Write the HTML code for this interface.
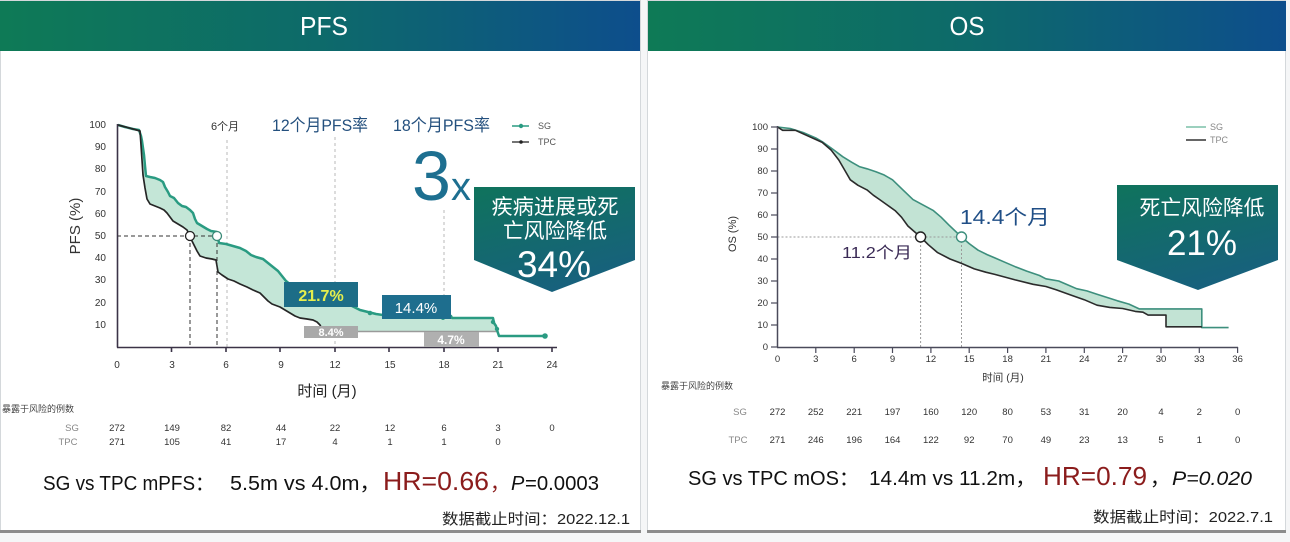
<!DOCTYPE html>
<html><head><meta charset="utf-8"><style>
html,body{margin:0;padding:0;background:#f3f5f6;}
svg{display:block;}
text{font-family:"Liberation Sans","Noto Sans CJK SC",sans-serif;}
</style></head><body>
<svg width="1290" height="542" viewBox="0 0 1290 542" xmlns="http://www.w3.org/2000/svg">
<defs>
<linearGradient id="hd" x1="0" y1="0" x2="1" y2="0">
<stop offset="0" stop-color="#0e7a56"/><stop offset="0.5" stop-color="#0d6a6a"/><stop offset="1" stop-color="#0d4e8c"/>
</linearGradient>
<linearGradient id="bx" x1="0" y1="0" x2="0.4" y2="1">
<stop offset="0" stop-color="#0f735c"/><stop offset="1" stop-color="#17617c"/>
</linearGradient>
</defs>
<rect x="0" y="0" width="1290" height="542" fill="#f5f6f7"/>
<!-- panels -->
<rect x="0.5" y="0.5" width="640" height="532" fill="#ffffff" stroke="#d4d8db"/>
<rect x="647.5" y="0.5" width="638" height="532" fill="#ffffff" stroke="#d4d8db"/>
<rect x="0" y="530" width="641" height="3" fill="#8c8c8c"/>
<rect x="647" y="530" width="639" height="3" fill="#8c8c8c"/>
<!-- headers -->
<rect x="0" y="1" width="640" height="50" fill="url(#hd)"/>
<rect x="648" y="1" width="638" height="50" fill="url(#hd)"/>
<text x="324" y="35" font-size="26" fill="#fff" text-anchor="middle" textLength="48" lengthAdjust="spacingAndGlyphs">PFS</text>
<text x="967" y="35" font-size="26" fill="#fff" text-anchor="middle" textLength="35" lengthAdjust="spacingAndGlyphs">OS</text>

<!-- ================= PFS ================= -->
<g stroke="#b8b8b8" stroke-width="1" stroke-dasharray="3,3">
<line x1="227" y1="140" x2="227" y2="347"/>
<line x1="335" y1="137" x2="335" y2="347"/>
<line x1="444" y1="210" x2="444" y2="347"/>
</g>
<path fill="#c4e6d7" d="M118,125 L125,127 L133,129 L139,130 L141,136 L142,141 L143,148 L144,155 L145,166 L146,176 L150,177 L155,178 L160,180 L163,182 L165,187 L168,192 L170,196 L174,198 L178,203 L182,206 L186,207 L190,210 L193,213 L195,219 L197,223 L202,226 L207,229 L211,231 L217,232 L218,238 L219,243 L226,244 L233,246 L240,248 L246,251 L251,255 L256,257 L263,259 L268,263 L273,267 L278,271 L282,276 L286,281 L292,286 L300,290 L310,293 L322,296 L335,299 L344,302 L352,306 L360,310 L368,312 L376,314 L383,315 L451,316 L452,318 L493,318 L494,323 L496,326 L497,331.5 L322,331.5 L320,325 L317,322 L313,320 L307,319 L300,318 L295,316 L290,313 L285,310 L280,307 L272,304 L268,301 L264,297 L260,293 L253,290 L247,287 L240,284 L234,281 L228,279 L222,275 L218,272 L217,266 L216,260 L212,259 L206,258 L200,256 L197,251 L194,245 L192,241 L190,237 L189,234 L187,230 L183,227 L178,224 L173,221 L170,217 L167,213 L164,210 L160,208 L155,206 L150,204 L147,199 L145,188 L143,175 L142,160 L141,145 L140,131 L133,129 Z"/>
<line x1="320" y1="331.5" x2="497" y2="331.5" stroke="#9a9a9a" stroke-width="1.5"/>
<path fill="none" stroke="#2a9b82" stroke-width="2.5" stroke-linejoin="round" d="M118,125 L125,127 L133,129 L139,130 L141,136 L142,141 L143,148 L144,155 L145,166 L146,176 L150,177 L155,178 L160,180 L163,182 L165,187 L168,192 L170,196 L174,198 L178,203 L182,206 L186,207 L190,210 L193,213 L195,219 L197,223 L202,226 L207,229 L211,231 L217,232 L218,238 L219,243 L226,244 L233,246 L240,248 L246,251 L251,255 L256,257 L263,259 L268,263 L273,267 L278,271 L282,276 L286,281 L292,286 L300,290 L310,293 L322,296 L335,299 L344,302 L352,306 L360,310 L368,312 L376,314 L383,315 L451,316 L452,318 L493,318 L494,323 L496,326 L497,330 L499,336 L545,336"/>
<g fill="#2a9b82"><circle cx="370" cy="313" r="2.3"/><circle cx="443" cy="318" r="2"/><circle cx="493" cy="322" r="2.2"/><circle cx="497" cy="329" r="2.2"/><circle cx="545" cy="336" r="2.8"/></g>
<path fill="none" stroke="#262626" stroke-width="1.7" stroke-linejoin="round" d="M118,125 L133,129 L140,131 L141,145 L142,160 L143,175 L145,188 L147,199 L150,204 L155,206 L160,208 L164,210 L167,213 L170,217 L173,221 L178,224 L183,227 L187,230 L189,234 L190,237 L192,241 L194,245 L197,251 L200,256 L206,258 L212,259 L216,260 L217,266 L218,272 L222,275 L228,279 L234,281 L240,284 L247,287 L253,290 L260,293 L264,297 L268,301 L272,304 L280,307 L285,310 L290,313 L295,316 L300,318 L307,319 L313,320 L317,322 L320,325 L322,329"/>
<g stroke="#333" stroke-width="1" stroke-dasharray="4,3" fill="none">
<line x1="117" y1="236" x2="217" y2="236"/>
<line x1="190" y1="236" x2="190" y2="347"/>
<line x1="217" y1="236" x2="217" y2="347"/>
</g>
<circle cx="190" cy="236" r="4.5" fill="#fff" stroke="#222" stroke-width="1.3"/>
<circle cx="217" cy="236" r="4.5" fill="#fff" stroke="#3a8a78" stroke-width="1.3"/>
<g stroke="#3b3347" stroke-width="1.6">
<line x1="117.5" y1="124" x2="117.5" y2="347.5"/>
<line x1="117" y1="347.5" x2="557" y2="347.5"/>
<line x1="171.5" y1="347" x2="171.5" y2="352"/><line x1="226" y1="347" x2="226" y2="352"/>
<line x1="280" y1="347" x2="280" y2="352"/><line x1="335" y1="347" x2="335" y2="352"/>
<line x1="389" y1="347" x2="389" y2="352"/><line x1="444" y1="347" x2="444" y2="352"/>
<line x1="498" y1="347" x2="498" y2="352"/><line x1="552" y1="347" x2="552" y2="352"/>
</g>
<rect x="284" y="282" width="74" height="25" fill="#1d6d87"/>
<text x="321" y="301" font-size="16" font-weight="bold" fill="#e6ee4c" text-anchor="middle">21.7%</text>
<rect x="382" y="295" width="69" height="24" fill="#1e6e8e"/>
<text x="416" y="313" font-size="15" fill="#fff" text-anchor="middle">14.4%</text>
<rect x="304" y="326" width="54" height="12" fill="#a9a9a9"/>
<text x="331" y="336" font-size="11" font-weight="bold" fill="#fff" text-anchor="middle">8.4%</text>
<rect x="424" y="332" width="55" height="15" fill="#b0b0b0"/>
<text x="451" y="344" font-size="12" font-weight="bold" fill="#fff" text-anchor="middle">4.7%</text>
<g font-size="10" fill="#333" text-anchor="end">
<text x="106" y="128">100</text><text x="106" y="150">90</text><text x="106" y="172">80</text>
<text x="106" y="195">70</text><text x="106" y="217">60</text><text x="106" y="239">50</text>
<text x="106" y="261">40</text><text x="106" y="283">30</text><text x="106" y="306">20</text>
<text x="106" y="328">10</text>
</g>
<g font-size="10" fill="#333" text-anchor="middle">
<text x="117" y="368">0</text><text x="172" y="368">3</text><text x="226" y="368">6</text>
<text x="281" y="368">9</text><text x="335" y="368">12</text><text x="390" y="368">15</text>
<text x="444" y="368">18</text><text x="498" y="368">21</text><text x="552" y="368">24</text>
</g>
<text transform="translate(80,226) rotate(-90)" font-size="15" fill="#333" text-anchor="middle">PFS (%)</text>
<text x="327" y="396" font-size="15" fill="#222" text-anchor="middle">时间 (月)</text>
<text x="225" y="130" font-size="11" fill="#333" text-anchor="middle">6个月</text>
<text x="272" y="131" font-size="17" fill="#24507e" textLength="96" lengthAdjust="spacingAndGlyphs">12个月PFS率</text>
<text x="393" y="131" font-size="17" fill="#24507e" textLength="97" lengthAdjust="spacingAndGlyphs">18个月PFS率</text>
<line x1="512" y1="126" x2="529" y2="126" stroke="#2a9b82" stroke-width="1.5"/><circle cx="521" cy="126" r="2.2" fill="#2a9b82"/>
<text x="538" y="129" font-size="9" fill="#555">SG</text>
<line x1="512" y1="142" x2="529" y2="142" stroke="#222" stroke-width="1.3"/><circle cx="521" cy="142" r="1.8" fill="#222"/>
<text x="538" y="145" font-size="9" fill="#555">TPC</text>
<text x="412" y="200" font-size="70" fill="#1d6f90">3</text>
<text x="451" y="200" font-size="40" fill="#1d6f90">x</text>
<polygon points="474,187 635,187 635,260 552,292 474,260" fill="url(#bx)"/>
<text x="555" y="214" font-size="21" fill="#fff" text-anchor="middle" textLength="127" lengthAdjust="spacingAndGlyphs">疾病进展或死</text>
<text x="555" y="238" font-size="21" fill="#fff" text-anchor="middle" textLength="104" lengthAdjust="spacingAndGlyphs">亡风险降低</text>
<text x="554" y="277" font-size="37" fill="#fff" text-anchor="middle">34%</text>
<text x="2" y="412" font-size="9" fill="#444">暴露于风险的例数</text>
<g font-size="9.5" fill="#333" text-anchor="middle">
<text x="72" y="431" fill="#888">SG</text>
<text x="117" y="431">272</text><text x="172" y="431">149</text><text x="226" y="431">82</text>
<text x="281" y="431">44</text><text x="335" y="431">22</text><text x="390" y="431">12</text>
<text x="444" y="431">6</text><text x="498" y="431">3</text><text x="552" y="431">0</text>
<text x="68" y="445" fill="#888">TPC</text>
<text x="117" y="445">271</text><text x="172" y="445">105</text><text x="226" y="445">41</text>
<text x="281" y="445">17</text><text x="335" y="445">4</text><text x="390" y="445">1</text>
<text x="444" y="445">1</text><text x="498" y="445">0</text>
</g>
<text x="43" y="490" font-size="20" fill="#111" textLength="171" lengthAdjust="spacingAndGlyphs">SG vs TPC mPFS：</text>
<text x="230" y="490" font-size="20" fill="#111" textLength="151" lengthAdjust="spacingAndGlyphs">5.5m vs 4.0m，</text>
<text x="383" y="490" font-size="26" fill="#8b1c1c" textLength="106" lengthAdjust="spacingAndGlyphs">HR=0.66</text>
<text x="490" y="490" font-size="20" fill="#8b1c1c">，</text>
<text x="511" y="490" font-size="20" fill="#111" font-style="italic">P</text>
<text x="525" y="490" font-size="20" fill="#111" textLength="74" lengthAdjust="spacingAndGlyphs">=0.0003</text>
<text x="442" y="524" font-size="15" fill="#222" textLength="188" lengthAdjust="spacingAndGlyphs">数据截止时间：2022.12.1</text>

<!-- ================= OS ================= -->
<path fill="#c2e3d4" d="M777.5,127 L790.3,128.5 L803.1,132.5 L815.8,138 L822.2,141.7 L832.5,149 L842.7,156.7 L851.6,162.2 L859.3,166.6 L867,168.8 L875.9,171.7 L883.6,174.7 L892.5,179.8 L902.7,189.7 L913,199.6 L923.2,205.1 L933.4,210.6 L941.1,217.2 L948.8,224.9 L961.5,237 L969.2,243.6 L978.1,250.2 L987.1,254.6 L994.8,257.9 L1005,262.3 L1015.2,266.7 L1026.7,271.1 L1039.5,275.5 L1045.9,278.8 L1058.7,281 L1068.9,285.4 L1076.6,288.7 L1086.8,290.9 L1097,294.2 L1107.2,297.5 L1117.4,300.8 L1129,304.1 L1139.2,308.9 L1201.8,308.9 L1201.8,326.8 L1166,326.8 L1166,315.1 L1148.1,315.1 L1143,312.2 L1135.3,311.4 L1122.6,308.5 L1109.8,307.4 L1097,305.2 L1084.2,299.7 L1071.4,295.3 L1056.1,289.8 L1045.9,286.5 L1033.1,284.3 L1015.2,279.9 L994.8,274.4 L985.8,272.2 L974.3,268.9 L961.5,263.4 L950,259 L937.3,252.4 L928.3,244.7 L920.6,237 L914.2,231.5 L907.9,226 L901.5,217.2 L895.1,210.6 L887.4,205.1 L879.7,199.6 L873.3,195.2 L867,189.9 L858,185.3 L850.3,179.8 L845.2,171 L838.8,160 L831.2,150.1 L822.2,142.4 L809.5,136.7 L795.4,130.3 L782.6,130.3 Z"/>
<g stroke="#9a9a9a" stroke-width="1" stroke-dasharray="2,2" fill="none">
<line x1="777.5" y1="237" x2="961.5" y2="237"/>
<line x1="920.6" y1="237" x2="920.6" y2="347"/>
<line x1="961.5" y1="237" x2="961.5" y2="347"/>
</g>
<path fill="none" stroke="#3d8f7d" stroke-width="1.6" stroke-linejoin="round" d="M777.5,127 L790.3,128.5 L803.1,132.5 L815.8,138 L822.2,141.7 L832.5,149 L842.7,156.7 L851.6,162.2 L859.3,166.6 L867,168.8 L875.9,171.7 L883.6,174.7 L892.5,179.8 L902.7,189.7 L913,199.6 L923.2,205.1 L933.4,210.6 L941.1,217.2 L948.8,224.9 L961.5,237 L969.2,243.6 L978.1,250.2 L987.1,254.6 L994.8,257.9 L1005,262.3 L1015.2,266.7 L1026.7,271.1 L1039.5,275.5 L1045.9,278.8 L1058.7,281 L1068.9,285.4 L1076.6,288.7 L1086.8,290.9 L1097,294.2 L1107.2,297.5 L1117.4,300.8 L1129,304.1 L1139.2,308.9 L1201.8,308.9 L1201.8,327.6 L1228.6,327.6"/>
<path fill="none" stroke="#2b2b2b" stroke-width="1.6" stroke-linejoin="round" d="M777.5,127 L782.6,130.3 L795.4,130.3 L809.5,136.7 L822.2,142.4 L831.2,150.1 L838.8,160 L845.2,171 L850.3,179.8 L858,185.3 L867,189.9 L873.3,195.2 L879.7,199.6 L887.4,205.1 L895.1,210.6 L901.5,217.2 L907.9,226 L914.2,231.5 L920.6,237 L928.3,244.7 L937.3,252.4 L950,259 L961.5,263.4 L974.3,268.9 L985.8,272.2 L994.8,274.4 L1015.2,279.9 L1033.1,284.3 L1045.9,286.5 L1056.1,289.8 L1071.4,295.3 L1084.2,299.7 L1097,305.2 L1109.8,307.4 L1122.6,308.5 L1135.3,311.4 L1143,312.2 L1148.1,315.1 L1166,315.1 L1166,326.8 L1201.8,326.8"/>
<circle cx="920.6" cy="237" r="5" fill="#fff" stroke="#222" stroke-width="1.4"/>
<circle cx="961.5" cy="237" r="5" fill="#fff" stroke="#3d8f7d" stroke-width="1.4"/>
<g stroke="#4a4a5a" stroke-width="1.5">
<line x1="777.5" y1="126" x2="777.5" y2="347.5"/>
<line x1="777" y1="347.5" x2="1238" y2="347.5"/>
</g>
<g stroke="#4a4a5a" stroke-width="1.2">
<line x1="771" y1="127" x2="777" y2="127"/><line x1="771" y1="149" x2="777" y2="149"/>
<line x1="771" y1="171" x2="777" y2="171"/><line x1="771" y1="193" x2="777" y2="193"/>
<line x1="771" y1="215" x2="777" y2="215"/><line x1="771" y1="237" x2="777" y2="237"/>
<line x1="771" y1="259" x2="777" y2="259"/><line x1="771" y1="281" x2="777" y2="281"/>
<line x1="771" y1="303" x2="777" y2="303"/><line x1="771" y1="325" x2="777" y2="325"/>
<line x1="771" y1="347" x2="777" y2="347"/>
<line x1="815.8" y1="347" x2="815.8" y2="353"/><line x1="854.2" y1="347" x2="854.2" y2="353"/>
<line x1="892.5" y1="347" x2="892.5" y2="353"/><line x1="930.9" y1="347" x2="930.9" y2="353"/>
<line x1="969.2" y1="347" x2="969.2" y2="353"/><line x1="1007.6" y1="347" x2="1007.6" y2="353"/>
<line x1="1045.9" y1="347" x2="1045.9" y2="353"/><line x1="1084.3" y1="347" x2="1084.3" y2="353"/>
<line x1="1122.6" y1="347" x2="1122.6" y2="353"/><line x1="1161" y1="347" x2="1161" y2="353"/>
<line x1="1199.3" y1="347" x2="1199.3" y2="353"/><line x1="1237.6" y1="347" x2="1237.6" y2="353"/>
</g>
<g font-size="9.5" fill="#333" text-anchor="end">
<text x="768" y="130">100</text><text x="768" y="152">90</text><text x="768" y="174">80</text>
<text x="768" y="196">70</text><text x="768" y="218">60</text><text x="768" y="240">50</text>
<text x="768" y="262">40</text><text x="768" y="284">30</text><text x="768" y="306">20</text>
<text x="768" y="328">10</text><text x="768" y="350">0</text>
</g>
<g font-size="9.5" fill="#333" text-anchor="middle">
<text x="777.5" y="362">0</text><text x="815.8" y="362">3</text><text x="854.2" y="362">6</text>
<text x="892.5" y="362">9</text><text x="930.9" y="362">12</text><text x="969.2" y="362">15</text>
<text x="1007.6" y="362">18</text><text x="1045.9" y="362">21</text><text x="1084.3" y="362">24</text>
<text x="1122.6" y="362">27</text><text x="1161" y="362">30</text><text x="1199.3" y="362">33</text>
<text x="1237.6" y="362">36</text>
</g>
<text transform="translate(736,234) rotate(-90)" font-size="11" fill="#333" text-anchor="middle">OS (%)</text>
<text x="1003" y="381" font-size="10.5" fill="#333" text-anchor="middle">时间 (月)</text>
<text x="960" y="224" font-size="20" fill="#1f4e86" textLength="90" lengthAdjust="spacingAndGlyphs">14.4个月</text>
<text x="842" y="258" font-size="16" fill="#3a2a55" textLength="70" lengthAdjust="spacingAndGlyphs">11.2个月</text>
<line x1="1186" y1="127" x2="1206" y2="127" stroke="#7cc0a8" stroke-width="1.5"/>
<text x="1210" y="130" font-size="9" fill="#888">SG</text>
<line x1="1186" y1="140" x2="1206" y2="140" stroke="#333" stroke-width="1.5"/>
<text x="1210" y="143" font-size="9" fill="#888">TPC</text>
<polygon points="1117,185 1278,185 1278,260 1198,290 1117,260" fill="url(#bx)"/>
<text x="1202" y="215" font-size="21" fill="#fff" text-anchor="middle" textLength="125" lengthAdjust="spacingAndGlyphs">死亡风险降低</text>
<text x="1202" y="255" font-size="35" fill="#fff" text-anchor="middle">21%</text>
<text x="661" y="389" font-size="9" fill="#444">暴露于风险的例数</text>
<g font-size="9.5" fill="#333" text-anchor="middle">
<text x="740" y="415" fill="#888">SG</text>
<text x="777.5" y="415">272</text><text x="815.8" y="415">252</text><text x="854.2" y="415">221</text>
<text x="892.5" y="415">197</text><text x="930.9" y="415">160</text><text x="969.2" y="415">120</text>
<text x="1007.6" y="415">80</text><text x="1045.9" y="415">53</text><text x="1084.3" y="415">31</text>
<text x="1122.6" y="415">20</text><text x="1161" y="415">4</text><text x="1199.3" y="415">2</text>
<text x="1237.6" y="415">0</text>
<text x="738" y="443" fill="#888">TPC</text>
<text x="777.5" y="443">271</text><text x="815.8" y="443">246</text><text x="854.2" y="443">196</text>
<text x="892.5" y="443">164</text><text x="930.9" y="443">122</text><text x="969.2" y="443">92</text>
<text x="1007.6" y="443">70</text><text x="1045.9" y="443">49</text><text x="1084.3" y="443">23</text>
<text x="1122.6" y="443">13</text><text x="1161" y="443">5</text><text x="1199.3" y="443">1</text>
<text x="1237.6" y="443">0</text>
</g>
<text x="688" y="485" font-size="20" fill="#111" textLength="171" lengthAdjust="spacingAndGlyphs">SG vs TPC mOS：</text>
<text x="869" y="485" font-size="20" fill="#111" textLength="167" lengthAdjust="spacingAndGlyphs">14.4m vs 11.2m，</text>
<text x="1043" y="485" font-size="26" fill="#8b1c1c" textLength="104" lengthAdjust="spacingAndGlyphs">HR=0.79</text>
<text x="1150" y="485" font-size="20" fill="#111">，</text>
<text x="1172" y="485" font-size="19" fill="#111" font-style="italic" textLength="80" lengthAdjust="spacingAndGlyphs">P=0.020</text>
<text x="1093" y="522" font-size="15" fill="#222" textLength="180" lengthAdjust="spacingAndGlyphs">数据截止时间：2022.7.1</text>
</svg>
</body></html>
